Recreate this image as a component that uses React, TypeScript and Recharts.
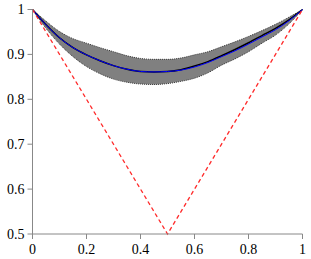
import React from "react";
import {
  ComposedChart,
  Area,
  Line,
  XAxis,
  YAxis,
} from "recharts";

// sampled x positions
const xs = [0, 0.05, 0.1, 0.15, 0.2, 0.25, 0.3, 0.35, 0.4, 0.45, 0.5, 0.55, 0.6, 0.65, 0.7, 0.75, 0.8, 0.85, 0.9, 0.95, 1];

// gray band (lower / upper)
const bandLower = [1, 0.958, 0.923, 0.895, 0.873, 0.857, 0.845, 0.838, 0.834, 0.833, 0.835, 0.84, 0.847, 0.859, 0.876, 0.89, 0.906, 0.925, 0.943, 0.968, 1];
const bandUpper = [1, 0.974, 0.951, 0.935, 0.925, 0.915, 0.906, 0.897, 0.891, 0.889, 0.889, 0.892, 0.899, 0.906, 0.917, 0.928, 0.94, 0.953, 0.967, 0.983, 1];

// black and blue curves
const blackCurve = [1, 0.966, 0.937, 0.915, 0.899, 0.886, 0.875, 0.867, 0.862, 0.861, 0.862, 0.866, 0.874, 0.884, 0.897, 0.911, 0.926, 0.942, 0.958, 0.977, 1];
const blueCurve = [1, 0.966, 0.937, 0.915, 0.899, 0.886, 0.875, 0.867, 0.862, 0.861, 0.862, 0.865, 0.872, 0.882, 0.895, 0.908, 0.923, 0.939, 0.955, 0.975, 1];

// red dashed V (only at a few x)
const redX = [0, 0.5, 1];
const redY = [1, 0.5, 1];

const xTicks = [0, 0.2, 0.4, 0.6, 0.8, 1];
const yTicks = [0.5, 0.6, 0.7, 0.8, 0.9, 1];

const data = xs.map((x, i) => {
  const r = redX.indexOf(x);
  return {
    x,
    band: [bandLower[i], bandUpper[i]],
    black: blackCurve[i],
    blue: blueCurve[i],
    red: r >= 0 ? redY[r] : null,
  };
});

const serifStyle = { fontFamily: "Liberation Serif", fontSize: "14px" };

const XTick = (props: any) => {
  const { x, y, payload } = props;
  return (
    <text x={x} y={y + 12} textAnchor="middle" style={serifStyle} fill="#000">
      {String(payload.value)}
    </text>
  );
};

const YTick = (props: any) => {
  const { x, y, payload } = props;
  return (
    <text x={x} y={y + 4.5} textAnchor="end" style={serifStyle} fill="#000">
      {String(payload.value)}
    </text>
  );
};

export default function App() {
  return (
    <div style={{ position: "fixed", left: 0, top: 0, background: "#fff", fontFamily: "Liberation Serif" }}>
      <ComposedChart
        width={311}
        height={259}
        data={data}
        margin={{ top: 9.5, right: 8.5, left: 2.5, bottom: 0 }}
        style={{ fontFamily: "Liberation Serif" }}
      >
        <XAxis
          xAxisId="b"
          dataKey="x"
          type="number"
          domain={[0, 1]}
          ticks={xTicks}
          height={25}
          tickSize={5}
          tickMargin={3}
          tick={<XTick />}
          stroke="#888"
          tickLine={{ stroke: "#888" }}
        />
        <XAxis
          xAxisId="t"
          orientation="top"
          dataKey="x"
          type="number"
          domain={[0, 1]}
          height={0}
          tick={false}
          tickLine={false}
          stroke="#666"
        />
        <YAxis
          yAxisId="l"
          type="number"
          domain={[0.5, 1]}
          ticks={yTicks}
          width={30}
          tickSize={5}
          tickMargin={3}
          tick={<YTick />}
          stroke="#888"
          tickLine={{ stroke: "#888" }}
        />
        <YAxis
          yAxisId="r"
          orientation="right"
          type="number"
          domain={[0.5, 1]}
          width={0}
          tick={false}
          tickLine={false}
          stroke="#aaa"
          strokeWidth={2}
        />
        <Area
          xAxisId="b"
          yAxisId="l"
          dataKey="band"
          type="monotone"
          fill="#808080"
          fillOpacity={1}
          stroke="#333"
          strokeDasharray="1 1"
          strokeWidth={1}
          isAnimationActive={false}
        />
        <Line
          xAxisId="b"
          yAxisId="l"
          dataKey="black"
          type="monotone"
          stroke="#000"
          strokeWidth={1.5}
          dot={false}
          isAnimationActive={false}
        />
        <Line
          xAxisId="b"
          yAxisId="l"
          dataKey="blue"
          type="monotone"
          stroke="#0000ff"
          strokeWidth={1}
          dot={false}
          isAnimationActive={false}
        />
        <Line
          xAxisId="b"
          yAxisId="l"
          dataKey="red"
          type="linear"
          stroke="#ff2a2a"
          strokeDasharray="4 3"
          strokeWidth={1.3}
          dot={false}
          connectNulls
          isAnimationActive={false}
        />
      </ComposedChart>
    </div>
  );
}
